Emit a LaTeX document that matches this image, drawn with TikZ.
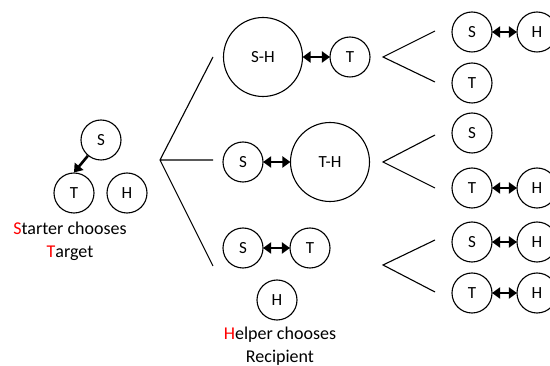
\documentclass[tikz,border=0pt]{standalone}
\usepackage{fontspec}
\setmainfont{Carlito}
\usetikzlibrary{arrows.meta}
\begin{document}
\begin{tikzpicture}[x=1pt,y=-1pt,
  ball/.style={circle,draw,line width=1.1pt,minimum size=40pt,inner sep=0pt,font=\fontsize{17}{19}\selectfont},
  bigball/.style={ball,minimum size=79pt},
  link/.style={line width=2.6pt,{Triangle[length=8pt,width=11pt]}-{Triangle[length=8pt,width=11pt]},shorten <=-0.5pt,shorten >=-0.5pt},
  pick/.style={line width=2.6pt,-{Triangle[length=8pt,width=11pt]}},
  fan/.style={line width=1.1pt},
  caption/.style={align=center,font=\fontsize{18}{23}\selectfont}]
\useasboundingbox (0,0) rectangle (550,366);
% left group
\node[ball] (s0) at (101,140) {S};
\node[ball] (t0) at (74,193) {T};
\node[ball] (h0) at (127,193) {H};
\draw[pick] (s0) -- (t0.north);
\node[caption] (c0) at (70,241) {\textcolor{red}{S}tarter chooses\\\textcolor{red}{T}arget};
% first fan
\coordinate (f0) at (160,160);
\coordinate (f0a) at (213,57);
\coordinate (f0b) at (213,160);
\coordinate (f0c) at (213,266);
\draw[fan] (f0a) -- (f0) -- (f0c) (f0) -- (f0b);
% middle column
\node[bigball] (sh1) at (263,57) {S-H};
\node[ball] (t1) at (350,57) {T};
\draw[link] (sh1) -- (t1);
\node[ball] (s2) at (243,162) {S};
\node[bigball] (th2) at (330,162) {T-H};
\draw[link] (s2) -- (th2);
\node[ball] (s3) at (243,248) {S};
\node[ball] (t3) at (310,248) {T};
\draw[link] (s3) -- (t3);
\node[ball] (h3) at (277,300) {H};
\node[caption] (c3) at (280,346) {\textcolor{red}{H}elper chooses\\Recipient};
% right fans
\coordinate (v1) at (383,57);
\coordinate (v2) at (383,162);
\coordinate (v3) at (383,265);
\coordinate (v1a) at (435,31); \coordinate (v1b) at (435,82);
\coordinate (v2a) at (435,135); \coordinate (v2b) at (435,188);
\coordinate (v3a) at (435,240); \coordinate (v3b) at (435,292);
\draw[fan] (v1a) -- (v1) -- (v1b);
\draw[fan] (v2a) -- (v2) -- (v2b);
\draw[fan] (v3a) -- (v3) -- (v3b);
% right column
\node[ball] (rs1) at (472,32) {S};
\node[ball] (rh1) at (537,32) {H};
\draw[link] (rs1) -- (rh1);
\node[ball] (rt1) at (472,83) {T};
\node[ball] (rs2) at (472,133) {S};
\node[ball] (rt2) at (472,188) {T};
\node[ball] (rh2) at (537,188) {H};
\draw[link] (rt2) -- (rh2);
\node[ball] (rs3) at (472,242) {S};
\node[ball] (rh3) at (537,242) {H};
\draw[link] (rs3) -- (rh3);
\node[ball] (rt4) at (472,293) {T};
\node[ball] (rh4) at (537,293) {H};
\draw[link] (rt4) -- (rh4);
\end{tikzpicture}
\end{document}
